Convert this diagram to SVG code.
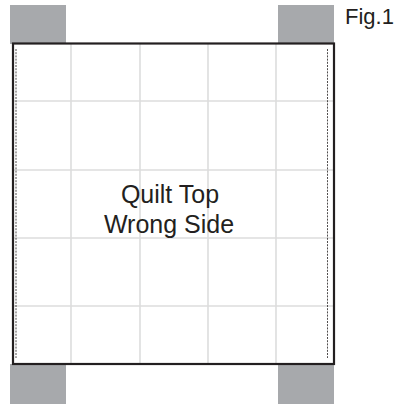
<svg xmlns="http://www.w3.org/2000/svg" width="404" height="406" viewBox="0 0 404 406">
<style>
.tab{fill:#a7a9ac}
.grid{stroke:#dcdddd;stroke-width:1.6;fill:none}
.border{stroke:#231f20;stroke-width:2.2;fill:none}
.dash{stroke:#231f20;stroke-width:0.8;stroke-dasharray:2 1.2;fill:none}
.lbl{font-family:"Liberation Sans",Arial,sans-serif;fill:#231f20}
</style>
<rect width="404" height="406" fill="#fff"/>
<g id="tabs">
<rect class="tab" x="10" y="5" width="56" height="39"/>
<rect class="tab" x="278" y="5" width="56" height="39"/>
<rect class="tab" x="10" y="364" width="56" height="40"/>
<rect class="tab" x="278" y="364" width="56" height="40"/>
</g>
<g id="quilt">
<rect x="13" y="43.5" width="321" height="320.5" fill="#fff"/>
<g class="grid">
<line x1="71" y1="43.5" x2="71" y2="364"/>
<line x1="140" y1="43.5" x2="140" y2="364"/>
<line x1="208" y1="43.5" x2="208" y2="364"/>
<line x1="276" y1="43.5" x2="276" y2="364"/>
<line x1="13" y1="101" x2="334" y2="101"/>
<line x1="13" y1="170" x2="334" y2="170"/>
<line x1="13" y1="238" x2="334" y2="238"/>
<line x1="13" y1="306" x2="334" y2="306"/>
</g>
<rect class="border" x="13" y="43.5" width="321" height="320.5"/>
<line class="dash" x1="16" y1="49" x2="16" y2="358"/>
<line class="dash" x1="327.5" y1="49" x2="327.5" y2="358"/>
<text class="lbl" x="170" y="203" font-size="25" text-anchor="middle">Quilt Top</text>
<text class="lbl" x="169" y="233" font-size="25" text-anchor="middle">Wrong Side</text>
</g>
<text id="fig" class="lbl" x="345" y="23.5" font-size="22">Fig.1</text>
</svg>
